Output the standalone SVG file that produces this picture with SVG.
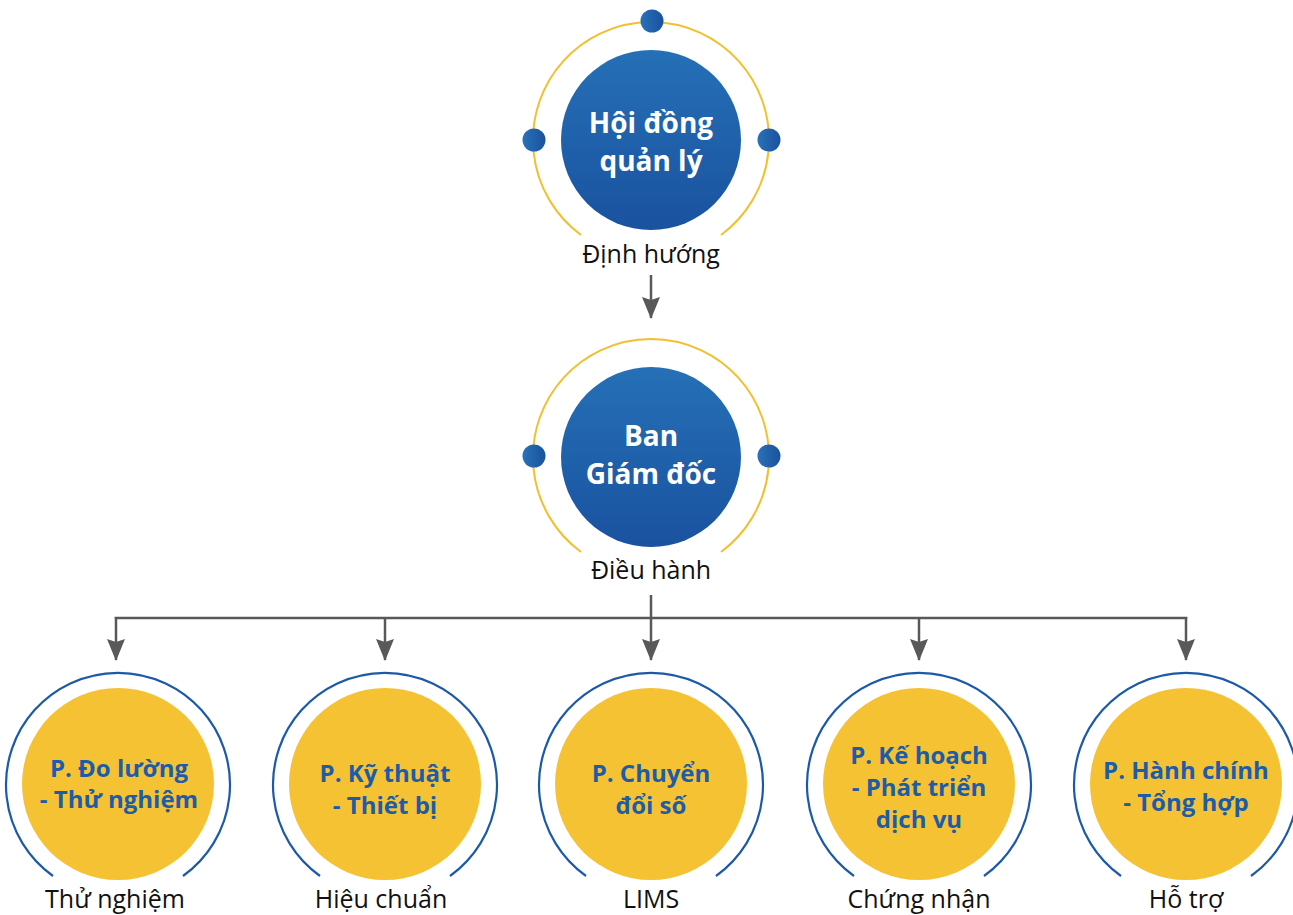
<svg xmlns="http://www.w3.org/2000/svg" width="1293" height="915" viewBox="0 0 1293 915">
<defs>
<linearGradient id="gBlue" x1="0" y1="0" x2="0" y2="1">
<stop offset="0" stop-color="#2570b6"/>
<stop offset="1" stop-color="#1a529f"/>
</linearGradient>
<linearGradient id="gDot" x1="0" y1="0" x2="1" y2="0">
<stop offset="0" stop-color="#2872b8"/>
<stop offset="1" stop-color="#1a519d"/>
</linearGradient>
<marker id="arr" markerWidth="22" markerHeight="18" refX="21" refY="9" orient="auto" markerUnits="userSpaceOnUse" viewBox="0 0 22 18">
<path d="M0,0 L3,9 L0,18 L22,9 Z" fill="#595959"/>
</marker>
<style>
.ring{fill:none;stroke:#f2bf2f;stroke-width:2}
.bring{fill:none;stroke:#1c5aa7;stroke-width:2.2}
.core{fill:url(#gBlue)}
.dot{fill:url(#gDot)}
.yel{fill:#f5c234}
.wt{font-family:"Open Sans","Noto Sans",sans-serif;font-weight:700;font-size:28px;fill:#ffffff;text-anchor:middle}
.bt{font-family:"Open Sans","Noto Sans",sans-serif;font-weight:700;font-size:24px;fill:#1c5ca9;text-anchor:middle}
.lb{font-family:"Open Sans","Noto Sans",sans-serif;font-weight:400;font-size:25px;fill:#111111;text-anchor:middle}
.ln{fill:none;stroke:#595959;stroke-width:2.5}
</style>
</defs>

<g id="connectors">
<line class="ln" x1="651" y1="275" x2="651" y2="318" marker-end="url(#arr)"/>
<line class="ln" x1="651" y1="595" x2="651" y2="660" marker-end="url(#arr)"/>
<line class="ln" x1="114.75" y1="618" x2="1187.25" y2="618"/>
<line class="ln" x1="116" y1="617" x2="116" y2="660" marker-end="url(#arr)"/>
<line class="ln" x1="385" y1="618" x2="385" y2="660" marker-end="url(#arr)"/>
<line class="ln" x1="919" y1="618" x2="919" y2="660" marker-end="url(#arr)"/>
<line class="ln" x1="1186" y1="617" x2="1186" y2="660" marker-end="url(#arr)"/>
</g>

<g id="node-hoidong">
<path class="ring" d="M581,235 A118,118 0 1 1 721,235"/>
<circle class="core" cx="651" cy="140" r="90"/>
<circle class="dot" cx="652" cy="21" r="11.5"/>
<circle class="dot" cx="534" cy="140" r="11.5"/>
<circle class="dot" cx="769" cy="140" r="11.5"/>
<text class="wt" x="651" y="133">Hội đồng</text>
<text class="wt" x="651" y="171">quản lý</text>
<text class="lb" x="651" y="263">Định hướng</text>
</g>

<g id="node-bangiamdoc">
<path class="ring" d="M581,552 A118,118 0 1 1 721,552"/>
<circle class="core" cx="651" cy="457" r="90"/>
<circle class="dot" cx="534" cy="456" r="11.5"/>
<circle class="dot" cx="769" cy="456" r="11.5"/>
<text class="wt" x="651" y="446">Ban</text>
<text class="wt" x="651" y="484">Giám đốc</text>
<text class="lb" x="651" y="579">Điều hành</text>
</g>

<g id="node-doluong">
<path class="bring" d="M53,876 A112,112 0 1 1 183,876"/>
<circle class="yel" cx="118" cy="784" r="96"/>
<text class="bt" x="119" y="777">P. Đo lường</text>
<text class="bt" x="119" y="808">- Thử nghiệm</text>
<text class="lb" x="115" y="908">Thử nghiệm</text>
</g>

<g id="node-kythuat">
<path class="bring" d="M320,876 A112,112 0 1 1 450,876"/>
<circle class="yel" cx="385" cy="784" r="96"/>
<text class="bt" x="385" y="782">P. Kỹ thuật</text>
<text class="bt" x="385" y="814">- Thiết bị</text>
<text class="lb" x="381" y="908">Hiệu chuẩn</text>
</g>

<g id="node-chuyendoiso">
<path class="bring" d="M586,876 A112,112 0 1 1 716,876"/>
<circle class="yel" cx="651" cy="784" r="96"/>
<text class="bt" x="651" y="782">P. Chuyển</text>
<text class="bt" x="651" y="814">đổi số</text>
<text class="lb" x="651" y="908">LIMS</text>
</g>

<g id="node-kehoach">
<path class="bring" d="M854,876 A112,112 0 1 1 984,876"/>
<circle class="yel" cx="919" cy="784" r="96"/>
<text class="bt" x="919" y="764">P. Kế hoạch</text>
<text class="bt" x="919" y="796">- Phát triển</text>
<text class="bt" x="919" y="828">dịch vụ</text>
<text class="lb" x="919" y="908">Chứng nhận</text>
</g>

<g id="node-hanhchinh">
<path class="bring" d="M1121,876 A112,112 0 1 1 1251,876"/>
<circle class="yel" cx="1186" cy="784" r="96"/>
<text class="bt" x="1186" y="779">P. Hành chính</text>
<text class="bt" x="1186" y="811">- Tổng hợp</text>
<text class="lb" x="1186" y="908">Hỗ trợ</text>
</g>
</svg>
